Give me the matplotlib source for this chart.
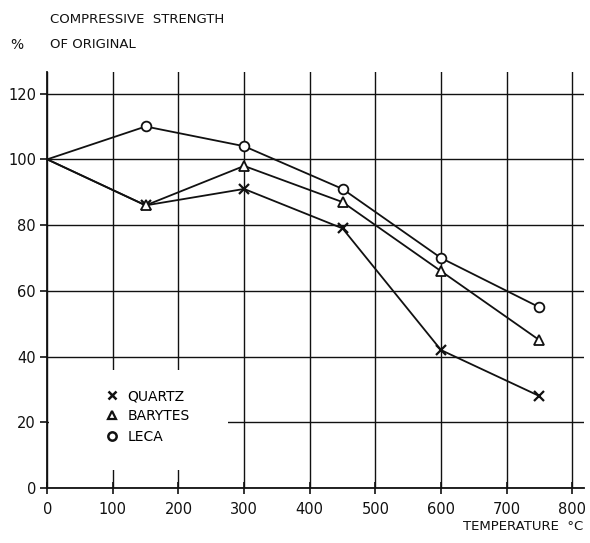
import matplotlib
matplotlib.use("Agg")
import matplotlib.pyplot as plt
from matplotlib.lines import Line2D
from matplotlib.patches import Rectangle

# Data
temperature = [0, 150, 300, 450, 600, 750]
quartz = [100, 86, 91, 79, 42, 28]
barytes = [100, 86, 98, 87, 66, 45]
leca = [100, 110, 104, 91, 70, 55]

x_ticks = [0, 100, 200, 300, 400, 500, 600, 700, 800]
y_ticks = [0, 20, 40, 60, 80, 100, 120]

plt.rcParams['font.family'] = ['DejaVu Sans']

fig = plt.figure(figsize=(5.9, 5.43), dpi=100)
ax = fig.add_axes([0.080, 0.101, 0.910, 0.766])

ink = '#111111'
ax.set_xlim(0, 818)
ax.set_ylim(0, 126.5)
ax.set_xticks(x_ticks)
ax.set_yticks(y_ticks)
ax.grid(True, color=ink, linewidth=1.0)
ax.set_axisbelow(True)

for side in ['top', 'right']:
    ax.spines[side].set_visible(False)
for side in ['left', 'bottom']:
    ax.spines[side].set_linewidth(1.3)
    ax.spines[side].set_color(ink)

ax.tick_params(axis='y', direction='out', length=5, width=1.2, labelsize=10.5, colors=ink, pad=3)
ax.tick_params(axis='x', direction='inout', length=8, width=1.2, labelsize=10.5, colors=ink, pad=6)

# white mask behind the legend (grid lines are broken there in the original)
ax.add_patch(Rectangle((0.003, 0.043), 0.334, 0.241, transform=ax.transAxes,
                       facecolor='white', edgecolor='none', zorder=1))

line_kw = dict(color=ink, linewidth=1.3, markersize=7, zorder=3, clip_on=False,
               markevery=slice(1, None))
ax.plot(temperature, quartz, marker='x', markeredgewidth=1.6, **line_kw)
ax.plot(temperature, barytes, marker='^', markerfacecolor='white',
        markeredgewidth=1.3, **line_kw)
ax.plot(temperature, leca, marker='o', markerfacecolor='white',
        markeredgewidth=1.3, **line_kw)

handles = [
    Line2D([], [], color=ink, linestyle='none', marker='x', markersize=6, markeredgewidth=1.8),
    Line2D([], [], color=ink, linestyle='none', marker='^', markersize=6,
           markerfacecolor='white', markeredgewidth=1.6),
    Line2D([], [], color=ink, linestyle='none', marker='o', markersize=6,
           markerfacecolor='white', markeredgewidth=1.8),
]
leg = ax.legend(handles, ['QUARTZ', 'BARYTES', 'LECA'], loc='upper left',
                bbox_to_anchor=(0.095, 0.255), frameon=False, fontsize=10,
                handlelength=1.0, handletextpad=0.6, labelspacing=0.45,
                borderpad=0.0)
leg.set_zorder(4)

fig.text(0.085, 0.965, 'COMPRESSIVE  STRENGTH', fontsize=9.5, color=ink, va='center')
fig.text(0.018, 0.918, '%', fontsize=10, color=ink, va='center')
fig.text(0.085, 0.918, 'OF ORIGINAL', fontsize=9.5, color=ink, va='center')
fig.text(0.988, 0.030, 'TEMPERATURE  °C', fontsize=9.5, color=ink, va='center', ha='right')

fig.savefig('out.png', dpi=100)
